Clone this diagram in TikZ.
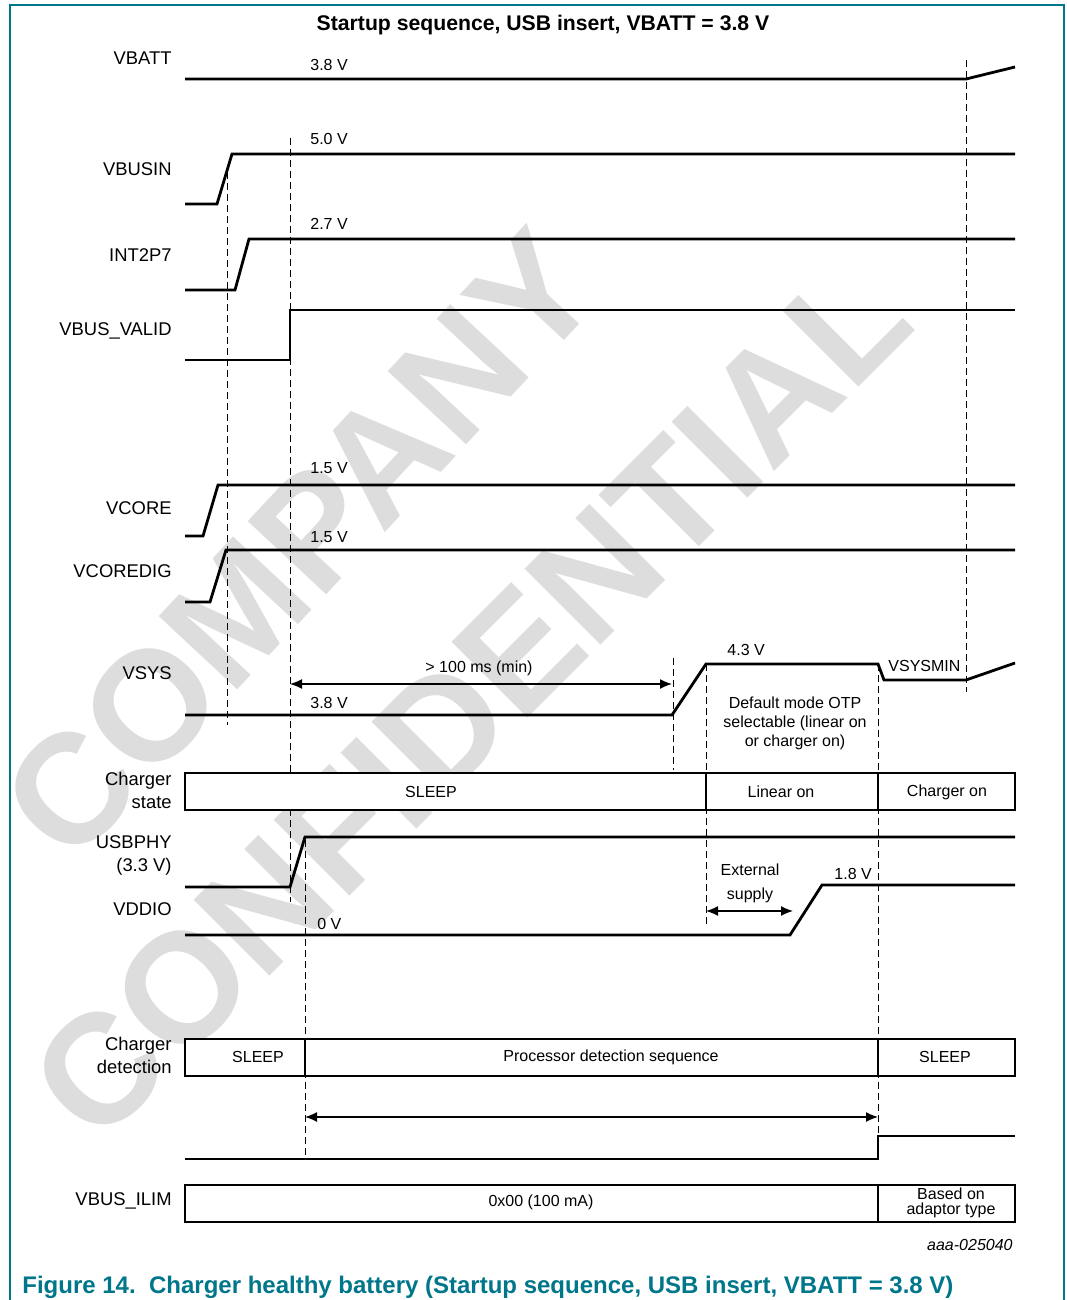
\documentclass[tikz,border=0pt]{standalone}
\usepackage{fontspec}
\setmainfont{Liberation Sans}
\usepackage{xcolor}
\usetikzlibrary{arrows.meta, positioning}

\definecolor{figteal}{RGB}{0,118,138}
\definecolor{wmgray}{RGB}{221,221,221}

\begin{document}
\begin{tikzpicture}[
    x=0.5pt, y=-0.5pt,
    sig/.style={anchor=east, align=right, inner sep=0pt, font=\fontsize{9.2}{11.5}\selectfont},
    volt/.style={anchor=west, inner sep=0pt, font=\fontsize{8}{9.5}\selectfont},
    note/.style={align=center, inner sep=0pt, font=\fontsize{8}{9.5}\selectfont},
    wave/.style={line width=1.4pt},
    marker/.style={line width=0.5pt, dash pattern=on 3.5pt off 2pt},
    lane/.style={draw, fill=white, line width=0.75pt},
    dim/.style={{Latex[length=6pt,width=5pt]}-{Latex[length=6pt,width=5pt]}, line width=0.7pt},
    wmark/.style={text=wmgray, inner sep=0pt, font=\fontsize{78}{78}\selectfont\bfseries}
]
\useasboundingbox (0,0) rectangle (1066,1300);

% watermark and frame
\node[wmark, rotate=47] (wmcompany) at (300,545) {COMPANY};
\node[wmark, rotate=45] (wmconf) at (470,700) {CONFIDENTIAL};
\draw[figteal, line width=0.8pt] (10,1310) -- (10,5) -- (1064,5) -- (1064,1310);

\node[font=\fontsize{10.6}{12}\selectfont\bfseries] (title) at (543,25) {Startup sequence, USB insert, VBATT = 3.8 V};

% time markers
\coordinate (t1) at (227,0);
\coordinate (t2) at (290,0);
\coordinate (t3) at (305,0);
\coordinate (t4) at (673,0);
\coordinate (t5) at (706,0);
\coordinate (t6) at (878,0);
\coordinate (t7) at (966,0);
\draw[marker] (227,172) -- (227,725);
\draw[marker] (290,138) -- (290,902);
\draw[marker] (305,840) -- (305,1159);
\draw[marker] (673,658) -- (673,770);
\draw[marker] (706,664) -- (706,925);
\draw[marker] (878,664) -- (878,1136);
\draw[marker] (966,60) -- (966,692);

% state lanes
\draw[lane] (185,773) rectangle (1015,810);
\draw[lane] (706,773) -- (706,810) (878,773) -- (878,810);
\draw[lane] (185,1039) rectangle (1015,1076);
\draw[lane] (305,1039) -- (305,1076) (878,1039) -- (878,1076);
\draw[lane] (185,1185) rectangle (1015,1222);
\draw[lane] (878,1185) -- (878,1222);

% waveforms
\draw[wave] (185,79) -- (966,79) -- (1015,67);
\draw[wave] (185,204) -- (217,204) -- (232,154) -- (1015,154);
\draw[wave] (185,290) -- (235,290) -- (249,239) -- (1015,239);
\draw[wave] (185,360) -- (290,360) -- (290,310) -- (1015,310);
\draw[wave] (185,536) -- (203,536) -- (218,485) -- (1015,485);
\draw[wave] (185,602) -- (210,602) -- (226,550) -- (1015,550);
\draw[wave] (185,715) -- (672,715) -- (706,664) -- (878,664) -- (884,680) -- (966,680) -- (1015,663);
\draw[wave] (185,887) -- (290,887) -- (305,837) -- (1015,837);
\draw[wave] (185,935) -- (790,935) -- (822,885) -- (1015,885);
\draw[wave] (185,1159) -- (878,1159) -- (878,1136) -- (1015,1136);

% signal names
\node[sig] (vbatt) at (172,58) {VBATT};
\node[sig] (vbusin) at (172,169) {VBUSIN};
\node[sig] (int2p7) at (172,255) {INT2P7};
\node[sig] (vbusvalid) at (172,331) {VBUS\_VALID};
\node[sig] (vcore) at (172,508) {VCORE};
\node[sig] (vcoredig) at (172,571) {VCOREDIG};
\node[sig] (vsys) at (172,673) {VSYS};
\node[sig] (chgstate) at (172,790) {Charger\\state};
\node[sig] (usbphy) at (172,855) {USBPHY\\(3.3 V)};
\node[sig] (vddio) at (172,909) {VDDIO};
\node[sig] (chgdet) at (172,1055) {Charger\\detection};
\node[sig] (vbusilim) at (172,1201) {VBUS\_ILIM};

% levels
\node[volt] (lvbatt) at (310,65) {3.8 V};
\node[volt] (lvbusin) at (310,139) {5.0 V};
\node[volt] (lint) at (310,224) {2.7 V};
\node[volt] (lvcore) at (310,468) {1.5 V};
\node[volt] (lvcoredig) at (310,537) {1.5 V};
\node[volt] (lvsyslow) at (310,703) {3.8 V};
\node[volt] (lvsyshigh) at (727,650) {4.3 V};
\node[volt] (lvsysmin) at (888,666) {VSYSMIN};
\node[volt] (lvddiolow) at (317,924) {0 V};
\node[volt] (lvddiohigh) at (834,874) {1.8 V};

% durations
\coordinate (d1a) at (290,684);
\coordinate (d1b) at (672,684);
\draw[dim] (d1a) -- (d1b);
\node[note] (delay) at (479,668) {> 100 ms (min)};
\node[note, font=\fontsize{8}{9.5}\selectfont] (otp) at (795,723) {Default mode OTP\\selectable (linear on\\or charger on)};
\coordinate (d2a) at (706,911);
\coordinate (d2b) at (793,911);
\draw[dim] (d2a) -- (d2b);
\node[note, font=\fontsize{8}{12}\selectfont] (extsup) at (750,883) {External\\supply};
\coordinate (d3a) at (305,1117);
\coordinate (d3b) at (878,1117);
\draw[dim] (d3a) -- (d3b);

% lane texts
\node[note] (sleep1) at (431,792) {SLEEP};
\node[note] (linear) at (781,792) {Linear on};
\node[note] (charger) at (947,792) {Charger on};
\node[note] (sleep2) at (258,1057) {SLEEP};
\node[note] (procdet) at (611,1057) {Processor detection sequence};
\node[note] (sleep3) at (945,1057) {SLEEP};
\node[note] (ilim0) at (541,1202) {0x00 (100 mA)};
\node[note, font=\fontsize{8}{7.5}\selectfont] (ilim1) at (951,1203) {Based on\\adaptor type};

\node[anchor=east, inner sep=0pt, font=\fontsize{8}{9.5}\selectfont\itshape] (figid) at (1013,1245) {aaa-025040};
\node[anchor=west, inner sep=0pt, text=figteal, font=\fontsize{12}{14}\selectfont\bfseries] (caption) at (22,1287) {Figure 14.\ \ Charger healthy battery (Startup sequence, USB insert, VBATT = 3.8 V)};
\end{tikzpicture}
\end{document}
